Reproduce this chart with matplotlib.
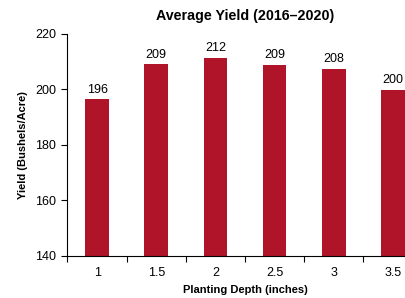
import matplotlib
matplotlib.use("Agg")
import matplotlib.pyplot as plt
import numpy as np

plt.rcParams['font.family'] = ['Liberation Sans', 'DejaVu Sans']

categories = ["1", "1.5", "2", "2.5", "3", "3.5"]
yields = [196.4, 209.1, 211.5, 208.8, 207.5, 199.9]
labels = ["196", "209", "212", "209", "208", "200"]
color = "#AF1429"

fig = plt.figure(figsize=(4.06, 2.98), dpi=100)
ax = fig.add_axes([67.5/406, 42/298, 355/406, 222/298])
x = np.arange(len(categories))
bars = ax.bar(x, yields, width=0.4, color=color, zorder=2)
for xi, yi, lab in zip(x, yields, labels):
    ax.text(xi, yi + 1.3, lab, ha='center', va='bottom', fontsize=9)

ax.set_xlim(-0.5, len(categories) - 0.5)
ax.set_ylim(140, 220)
ax.set_yticks([140, 160, 180, 200, 220])
ax.set_xticks(x)
ax.set_xticklabels(categories)
ax.set_xticks(np.arange(-0.5, len(categories), 1.0), minor=True)
ax.tick_params(axis='x', which='major', length=0, labelsize=9, pad=8)
ax.tick_params(axis='x', which='minor', length=4, width=0.8, direction='out')
ax.tick_params(axis='y', length=4, width=0.8, labelsize=9, pad=4)
for s in ['top', 'right']:
    ax.spines[s].set_visible(False)
for s in ['left', 'bottom']:
    ax.spines[s].set_linewidth(0.8)

ax.set_title("Average Yield (2016\u20132020)", fontsize=10.3, fontweight='bold', pad=10)
ax.set_xlabel("Planting Depth (inches)", fontsize=8, fontweight='bold', labelpad=4)
ax.set_ylabel("Yield (Bushels/Acre)", fontsize=8, fontweight='bold', labelpad=5)

fig.savefig("out.png", dpi=100)
